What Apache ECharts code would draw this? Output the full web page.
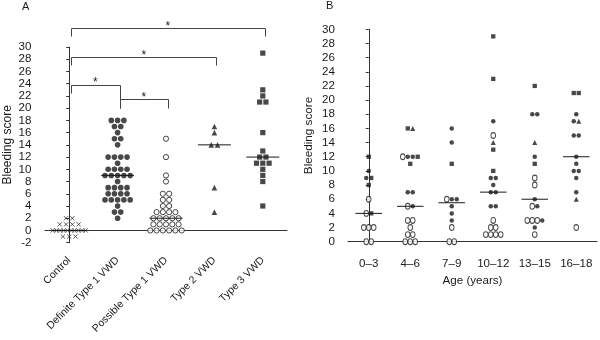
<!DOCTYPE html>
<html><head><meta charset="utf-8">
<script src="https://cdn.jsdelivr.net/npm/echarts@6/dist/echarts.min.js"></script>
<style>html,body{margin:0;padding:0;background:#fff}#c{width:600px;height:340px}</style>
</head><body><div id="c"></div>
<script>
// ---------- Panel A data ----------
const catsA = ['Control', 'Definite Type 1 VWD', 'Possible Type 1 VWD', 'Type 2 VWD', 'Type 3 VWD'];
const controlA = [2, 2, 1, 1, 1, 1, 0, 0, 0, 0, 0, 0, 0, 0, 0, 0, -1, -1, -1];
const definiteA = [18, 18, 18, 17, 17, 16, 15, 15, 14, 12, 12, 12, 12, 11, 10, 10, 10, 10, 9, 9, 9, 9, 9, 8, 7, 7, 7, 7, 6, 6, 6, 6, 5, 5, 5, 5, 5, 4, 3, 3, 2];
const possibleA = [15, 12, 9, 8, 6, 6, 5, 5, 4, 4, 3, 3, 3, 3, 2, 2, 2, 2, 2, 1, 1, 1, 1, 1, 0, 0, 0, 0, 0, 0];
const type2A = [17, 16, 14, 14, 7, 3];
const type3A = [29, 23, 22, 21, 21, 16, 13, 12, 12, 11, 11, 11, 10, 9, 8, 4];
const yTicksA = [-2, 0, 2, 4, 6, 8, 10, 12, 14, 16, 18, 20, 22, 24, 26, 28, 30];
// significance comparisons (category index pairs)
const sigPairsA = [[0, 1], [1, 2], [0, 3], [0, 4]];
const sigLabelA = ['*', '*', '*', '*'];

// ---------- Panel B data (per age group) ----------
const catsB = ['0–3', '4–6', '7–9', '10–12', '13–15', '16–18'];
const type3B = [[12, 9, 8, 4], [16, 12, 11], [11], [29, 23, 13, 10], [22, 11], [21, 21]];
const type2B = [[], [16], [], [14], [14], [17, 6]];
const definiteB = [[10, 9], [12, 12, 7, 7, 5], [16, 14, 6, 6, 5, 4, 3], [17, 9, 9, 8, 7, 7, 5, 5], [18, 18, 12, 6, 5, 3, 2], [18, 17, 15, 15, 12, 11, 10, 10, 9, 7]];
const possibleB = [[6, 4, 2, 2, 2, 0, 0], [12, 5, 3, 3, 2, 1, 1, 0, 0, 0], [6, 2, 0, 0], [15, 3, 2, 2, 1, 1, 1, 1], [9, 8, 5, 3, 3, 3, 1], [2]];
const yTicksB = [0, 2, 4, 6, 8, 10, 12, 14, 16, 18, 20, 22, 24, 26, 28, 30];

// ---------- helpers ----------
const FONT = '"Liberation Sans", Arial, Helvetica, sans-serif';
const INK = '#1a1a1a';

function median(a) {
  const s = [...a].sort((x, y) => x - y), n = s.length;
  return n % 2 ? s[(n - 1) / 2] : (s[n / 2 - 1] + s[n / 2]) / 2;
}
// spread points sharing the same value side by side around the category centre
function beeswarm(groups, step, maxSpan) {
  const out = [];
  groups.forEach((pts, idx) => {
    const rows = new Map();
    pts.forEach(p => { if (!rows.has(p.v)) rows.set(p.v, []); rows.get(p.v).push(p); });
    rows.forEach(row => {
      const n = row.length;
      const s = n > 1 ? Math.min(step, maxSpan / (n - 1)) : 0;
      row.forEach((p, i) => out.push({ t: p.t, value: [idx + (i - (n - 1) / 2) * s, p.v] }));
    });
  });
  return out;
}
const tag = (arr, t) => arr.map(v => ({ v, t }));

const groupsA = [tag(controlA, 'x'), tag(definiteA, 'filled'), tag(possibleA, 'open'), tag(type2A, 'tri'), tag(type3A, 'square')];
const ptsA = beeswarm(groupsA, 0.13, 0.68);
const groupsB = catsB.map((c, g) => [].concat(tag(possibleB[g], 'open'), tag(definiteB[g], 'filled'), tag(type3B[g], 'square'), tag(type2B[g], 'tri')));
const ptsB = beeswarm(groupsB, 0.12, 0.6);

const medA = [controlA, definiteA, possibleA, type2A, type3A].map(median);
const medB = groupsB.map(g => median(g.map(p => p.v)));

const styleA = {
  x: { symbol: 'path://M0,0L5,5M5,0L0,5', symbolSize: 4.2, itemStyle: { color: 'rgba(0,0,0,0)', borderColor: INK, borderWidth: 0.9 } },
  filled: { symbol: 'circle', symbolSize: 5.6, itemStyle: { color: INK } },
  open: { symbol: 'circle', symbolSize: 5.2, itemStyle: { color: '#fff', borderColor: INK, borderWidth: 1 } },
  tri: { symbol: 'triangle', symbolSize: 5.6, itemStyle: { color: INK } },
  square: { symbol: 'rect', symbolSize: 5.2, itemStyle: { color: INK } }
};
const styleB = {
  filled: { symbol: 'circle', symbolSize: 4.5, itemStyle: { color: INK } },
  open: { symbol: 'circle', symbolSize: [4.6, 5.8], itemStyle: { color: '#fff', borderColor: INK, borderWidth: 1 } },
  tri: { symbol: 'triangle', symbolSize: 5, itemStyle: { color: INK } },
  square: { symbol: 'rect', symbolSize: 4.3, itemStyle: { color: INK } }
};

const series = [];
Object.keys(styleA).forEach(t => {
  series.push(Object.assign({ type: 'scatter', xAxisIndex: 1, yAxisIndex: 0, z: 3, silent: true,
    data: ptsA.filter(p => p.t === t).map(p => p.value) }, styleA[t]));
});
Object.keys(styleB).forEach(t => {
  series.push(Object.assign({ type: 'scatter', xAxisIndex: 3, yAxisIndex: 1, z: 3, silent: true,
    data: ptsB.filter(p => p.t === t).map(p => p.value) }, styleB[t]));
});
function medianSeries(xi, yi, meds, half) {
  return {
    type: 'custom', xAxisIndex: xi, yAxisIndex: yi, z: 4, silent: true,
    data: meds.map((m, i) => [i, m]),
    renderItem: (p, api) => {
      const a = api.coord([api.value(0) - half, api.value(1)]);
      const b = api.coord([api.value(0) + half, api.value(1)]);
      return { type: 'line', shape: { x1: a[0], y1: a[1], x2: b[0], y2: b[1] }, style: { stroke: INK, lineWidth: 1 } };
    }
  };
}
series.push(medianSeries(1, 0, medA, 0.34));
series.push(medianSeries(3, 1, medB, 0.32));

// significance brackets: [from, to, top, leftLegEnd, rightLegEnd] in score units
const bracketGeom = [[23.8, 22.4, 20.0], [21.45, 20.0, 20.0], [28.3, 27.1, 27.1], [33.06, 31.8, 31.8]];
series.push({
  type: 'custom', xAxisIndex: 1, yAxisIndex: 0, z: 4, silent: true, clip: false,
  data: sigPairsA.map((p, i) => [p[0], p[1], bracketGeom[i][0], bracketGeom[i][1], bracketGeom[i][2]]),
  renderItem: (p, api) => {
    const x1 = api.value(0) + 0.04, x2 = api.value(1) + 0.04, top = api.value(2);
    const pts = [api.coord([x1, api.value(3)]), api.coord([x1, top]), api.coord([x2, top]), api.coord([x2, api.value(4)])];
    const mid = [(pts[1][0] + pts[2][0]) / 2, pts[1][1]];
    return { type: 'group', children: [
      { type: 'polyline', shape: { points: pts.map(q => [Math.round(q[0]) + 0.5, Math.round(q[1]) + 0.5]) }, style: { stroke: '#444', lineWidth: 1, fill: null } },
      { type: 'text', x: mid[0], y: mid[1] - 2, style: { text: sigLabelA[p.dataIndex], fill: INK, fontSize: 12, fontFamily: FONT, align: 'center', verticalAlign: 'middle' } }
    ] };
  }
});

const axisLine = { show: true, lineStyle: { color: '#333', width: 1 } };
const option = {
  backgroundColor: '#fff',
  animation: false,
  textStyle: { fontFamily: FONT },
  graphic: [
    { type: 'text', left: 22, top: 1, style: { text: 'A', fontSize: 11, fill: INK, fontFamily: FONT } },
    { type: 'text', left: 326, top: 0, style: { text: 'B', fontSize: 11, fill: INK, fontFamily: FONT } }
  ],
  grid: [
    { left: 45, width: 242, top: 47, height: 195.7 },
    { left: 348, width: 249, top: 29.3, height: 212.4 }
  ],
  xAxis: [
    { gridIndex: 0, type: 'category', data: catsA, boundaryGap: true, offset: 10, axisLine,
      axisTick: { alignWithLabel: true, length: 4, lineStyle: { color: '#333' } },
      axisLabel: { rotate: 45, margin: 6, fontSize: 10.5, color: INK, fontFamily: FONT, interval: 0 }, splitLine: { show: false } },
    { gridIndex: 0, type: 'value', min: -0.5, max: 4.5, show: false },
    { gridIndex: 1, type: 'category', data: catsB, boundaryGap: true, offset: 11, axisLine,
      axisTick: { alignWithLabel: true, length: 3.5, lineStyle: { color: '#333' } },
      axisLabel: { margin: 5, fontSize: 11.6, color: INK, fontFamily: FONT, interval: 0 },
      name: 'Age (years)', nameLocation: 'middle', nameGap: 20, nameTextStyle: { fontSize: 11.6, color: INK, fontFamily: FONT },
      splitLine: { show: false } },
    { gridIndex: 1, type: 'value', min: -0.5, max: 5.5, show: false }
  ],
  yAxis: [
    { gridIndex: 0, type: 'value', min: yTicksA[0], max: yTicksA[yTicksA.length - 1], interval: 2, offset: 10, axisLine,
      axisTick: { show: true, length: 3, lineStyle: { color: '#333' } },
      axisLabel: { fontSize: 11.6, color: INK, margin: 3.5, fontFamily: FONT }, splitLine: { show: false },
      name: 'Bleeding score', nameLocation: 'middle', nameGap: 21, nameTextStyle: { fontSize: 12, color: INK, fontFamily: FONT } },
    { gridIndex: 1, type: 'value', min: yTicksB[0], max: yTicksB[yTicksB.length - 1], interval: 2, offset: 9, axisLine,
      axisTick: { show: true, length: 3, lineStyle: { color: '#333' } },
      axisLabel: { fontSize: 11.6, color: INK, margin: 4, fontFamily: FONT }, splitLine: { show: false },
      name: 'Bleeding score', nameLocation: 'middle', nameGap: 24, nameTextStyle: { fontSize: 11.7, color: INK, fontFamily: FONT } }
  ],
  series
};
const chart = echarts.init(document.getElementById('c'));
chart.setOption(option);
</script>
</body></html>
